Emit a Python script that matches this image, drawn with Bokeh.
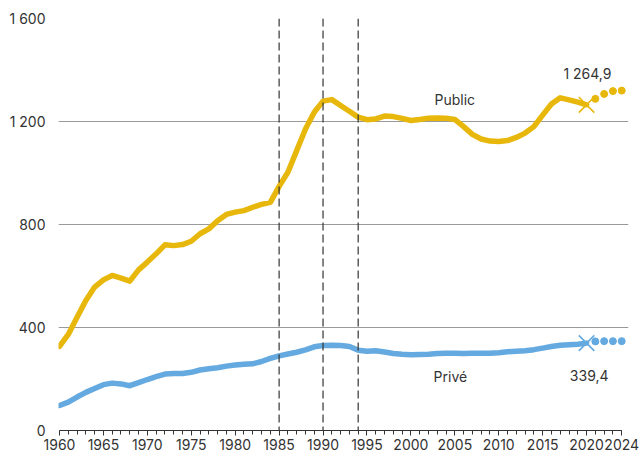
from bokeh.plotting import figure
from bokeh.models import Range1d, FixedTicker, Span, Label
from bokeh.embed import file_html
from bokeh.resources import INLINE

years = list(range(1960, 2021))
public = [327, 373, 440, 505, 557, 585, 602, 592, 580, 624,
          654, 686, 721, 718, 722, 735, 764, 783, 815, 839,
          848, 854, 867, 878, 886, 948, 1003, 1087, 1171, 1236,
          1279, 1285, 1262, 1240, 1217, 1207, 1210, 1221, 1219, 1212,
          1204, 1208, 1213, 1214, 1213, 1208, 1180, 1150, 1132, 1124,
          1122, 1126, 1138, 1155, 1180, 1225, 1268, 1292, 1284, 1275,
          1264.9]
prive = [97, 110, 130, 148, 163, 178, 184, 181, 174, 186,
         198, 209, 219, 221, 221, 226, 235, 240, 244, 250,
         254, 257, 259, 268, 280, 290, 297, 304, 313, 325,
         330, 331, 330, 326, 312, 308, 310, 305, 299, 296,
         294, 295, 296, 299, 300, 300, 299, 300, 300, 300,
         302, 306, 308, 310, 314, 320, 326, 331, 333, 335,
         339.4]
proj_years = [2021, 2022, 2023, 2024]
public_proj = [1288, 1307, 1318, 1320]
prive_proj = [346, 347, 347, 347]
reform_years = [1985, 1990, 1994]
y_ticks = [0, 400, 800, 1200, 1600]
y_tick_labels = ["0", "400", "800", "1 200", "1 600"]
x_ticks = [1960, 1965, 1970, 1975, 1980, 1985, 1990, 1995, 2000, 2005, 2010, 2015, 2020, 2024]

YELLOW = "#E7B80B"
BLUE = "#64AAE0"
TXT = "#333333"
FONT = "Inter"

def fmt(v):
    s = f"{v:,.1f}".replace(",", " ").replace(".", ",")
    return s

p = figure(width=643, height=455, output_backend="svg", toolbar_location=None,
           x_range=Range1d(1960 - 1 / 8.8, 1960 + 570 / 8.8), y_range=Range1d(0, 1600),
           min_border_left=58, min_border_right=15, min_border_top=18, min_border_bottom=25)
p.outline_line_color = None
p.background_fill_color = "white"
p.xgrid.grid_line_color = None
p.ygrid.ticker = FixedTicker(ticks=y_ticks)
p.ygrid.grid_line_color = "#9a9a9a"
p.ygrid.grid_line_width = 1

p.yaxis.ticker = FixedTicker(ticks=y_ticks)
p.yaxis.major_label_overrides = {t: l for t, l in zip(y_ticks, y_tick_labels)}
p.yaxis.axis_line_color = None
p.yaxis.major_tick_line_color = None
p.yaxis.minor_tick_line_color = None
p.yaxis.major_tick_out = 0
p.yaxis.minor_tick_out = 0
p.yaxis.major_label_standoff = 13
p.yaxis.major_label_text_font = FONT
p.yaxis.major_label_text_font_size = "14px"
p.yaxis.major_label_text_color = TXT

p.xaxis.ticker = FixedTicker(ticks=x_ticks, minor_ticks=list(range(1960, 2025)))
p.xaxis.bounds = (1960, 2024)
p.xaxis.axis_line_color = "#333333"
p.xaxis.major_tick_line_color = "#333333"
p.xaxis.minor_tick_line_color = "#333333"
p.xaxis.major_tick_in = 0
p.xaxis.major_tick_out = 5
p.xaxis.minor_tick_in = 0
p.xaxis.minor_tick_out = 4
p.xaxis.major_label_standoff = 3
p.xaxis.major_label_text_font = FONT
p.xaxis.major_label_text_font_size = "14px"
p.xaxis.major_label_text_color = TXT

for yr in reform_years:
    p.add_layout(Span(location=yr, dimension="height", line_color="#333333",
                      line_width=1.2, line_dash="8 4"))

p.line(years, public, line_color=YELLOW, line_width=5.5, line_join="round", line_cap="round")
p.line(years, prive, line_color=BLUE, line_width=5.5, line_join="round", line_cap="round")
p.scatter(proj_years, public_proj, marker="circle", size=7, color=YELLOW)
p.scatter(proj_years, prive_proj, marker="circle", size=7, color=BLUE)
p.scatter([years[-1]], [public[-1]], marker="x", size=22, line_width=1.6, line_color=YELLOW)
p.scatter([years[-1]], [prive[-1]], marker="x", size=22, line_width=1.6, line_color=BLUE)

def add_label(x, y, text):
    p.add_layout(Label(x=x, y=y, text=text, text_align="center", text_baseline="middle",
                       text_font=FONT, text_font_size="14px", text_color=TXT))

add_label(2005, 1287, "Public")
add_label(2004.5, 210, "Privé")
add_label(2020.1, 1386, fmt(public[-1]))
add_label(2020.3, 212, fmt(prive[-1]))

open("out.html", "w").write(file_html(p, INLINE))
